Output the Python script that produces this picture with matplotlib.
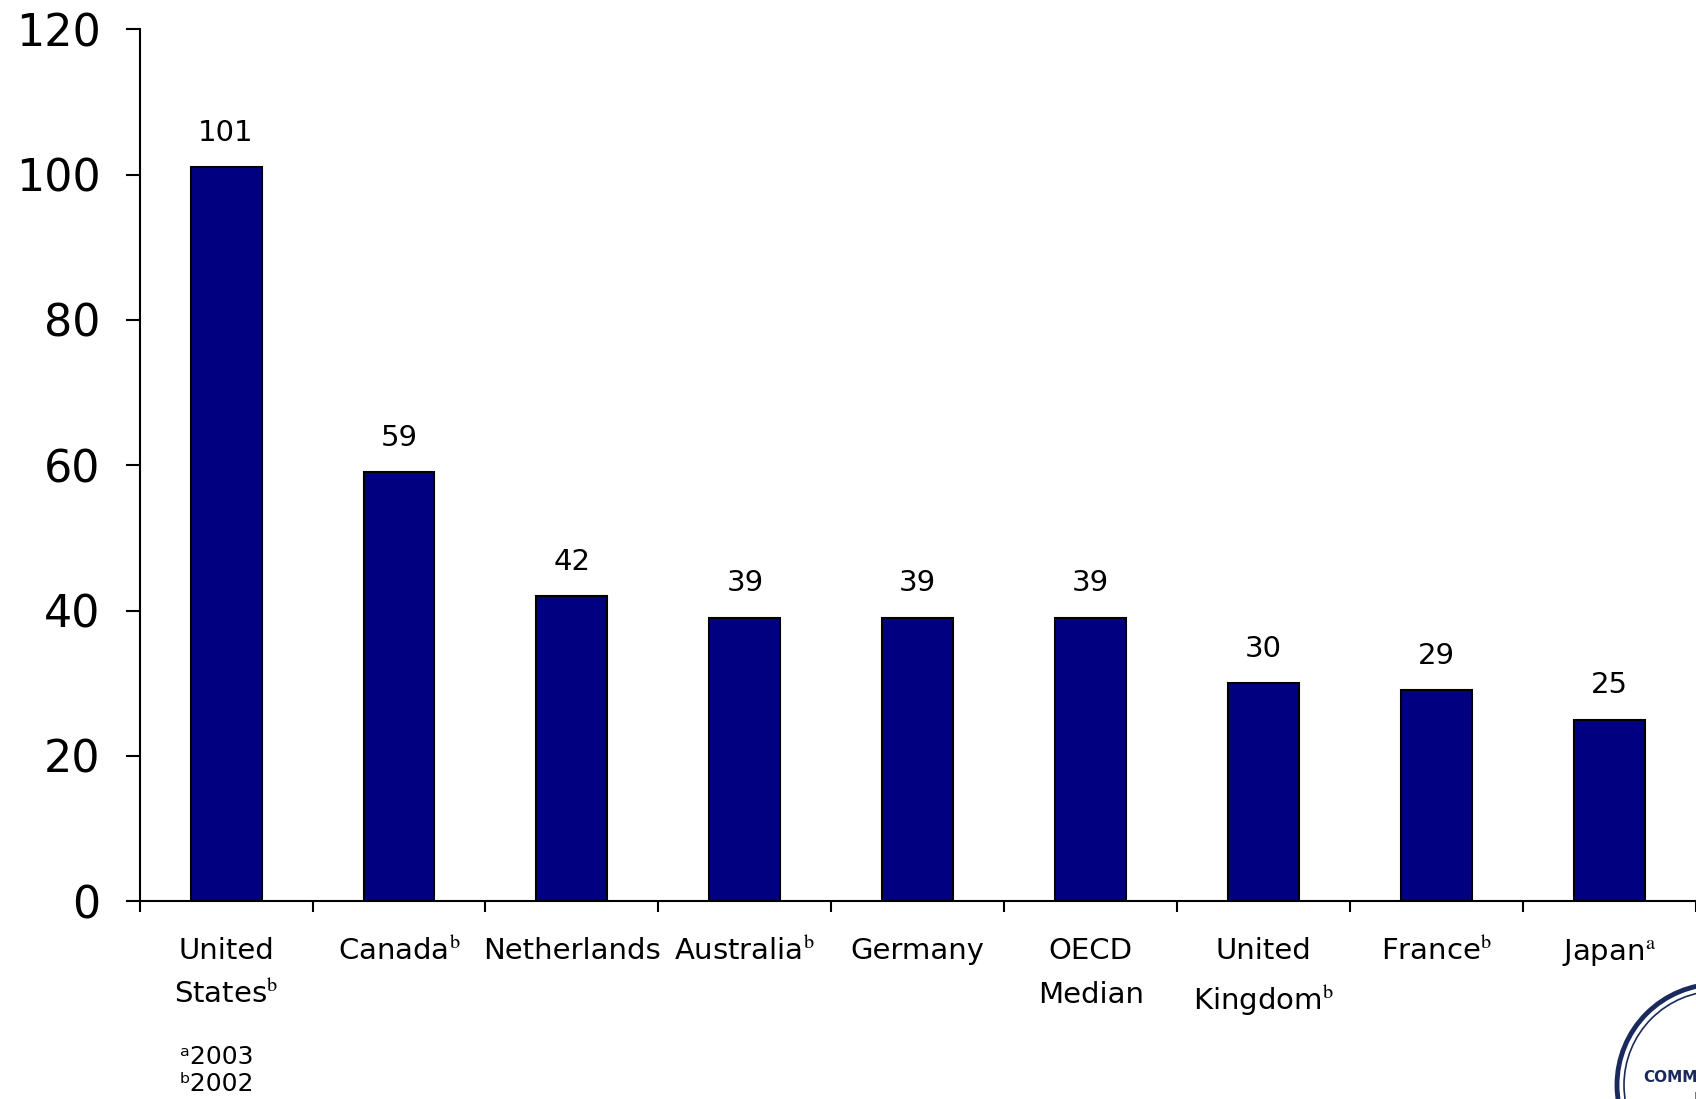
import matplotlib
matplotlib.use("Agg")
import matplotlib.pyplot as plt
from matplotlib.patches import Circle
import numpy as np

plt.rcParams["font.family"] = ["DejaVu Sans"]
plt.rcParams["mathtext.fontset"] = "stix"

# per-capita values, with footnote letter for the data year
countries = ["United\nStates", "Canada", "Netherlands", "Australia", "Germany",
             "OECD\nMedian", "United\nKingdom", "France", "Japan"]
notes = ["b", "b", "", "b", "", "", "b", "b", "a"]
values = [101, 59, 42, 39, 39, 39, 30, 29, 25]
yticks = [0, 20, 40, 60, 80, 100, 120]
footnotes = ["\u1d432003", "\u1d472002"]

navy = "#000080"

fig = plt.figure(figsize=(16.96, 10.99), dpi=100)
ax = fig.add_axes([0.0823, 0.180, 1 - 0.0823, 0.7934])

x = np.arange(len(values))
ax.bar(x, values, width=0.41, color=navy, edgecolor="black", linewidth=1.5, zorder=3)

for xi, v in zip(x, values):
    ax.annotate(str(v), (xi, v), xytext=(0, 19), textcoords="offset points",
                ha="center", va="baseline", fontsize=21)

ax.set_xlim(-0.5, len(values) - 0.5)
ax.set_ylim(0, 120)
ax.set_yticks(yticks)
ax.tick_params(axis="y", labelsize=32, length=10, width=1.5, pad=18)

labels = []
for name, n in zip(countries, notes):
    labels.append(name + ("$^{\\mathrm{" + n + "}}$" if n else ""))
ax.set_xticks(x)
ax.set_xticklabels(labels, fontsize=21, linespacing=1.7)
ax.tick_params(axis="x", length=0, pad=26)
ax.set_xticks(np.arange(len(values) + 1) - 0.5, minor=True)
ax.tick_params(axis="x", which="minor", length=8, width=1.5)

for side in ["top", "right"]:
    ax.spines[side].set_visible(False)
for side in ["left", "bottom"]:
    ax.spines[side].set_linewidth(1.5)
ax.spines["bottom"].set_clip_on(False)

for i, t in enumerate(footnotes):
    fig.text(180 / 1696, 1 - (1057 + 27 * i) / 1099, t, fontsize=18, va="center", ha="left")

# partial seal in the lower right corner
cx, cy = 1718, 1085
for r, lw in [(101, 3.5), (94, 1.2)]:
    fig.patches.append(Circle((cx, 1099 - cy), r, transform=None, fill=False,
                              edgecolor="#1b2a5c", linewidth=lw))
fig.text(cx / 1696, 1 - 1078 / 1099, "COMMONWEALTH", fontsize=11, fontweight="bold",
         color="#1b2a5c", ha="center", va="center")
fig.text(cx / 1696, 1 - 1048 / 1099, "THE", fontsize=10, fontweight="bold",
         color="#1b2a5c", ha="center", va="center")
fig.text(cx / 1696, 1 - 1100 / 1099, "FUND", fontsize=11, fontweight="bold",
         color="#1b2a5c", ha="center", va="center")

fig.savefig("out.png", dpi=100)
